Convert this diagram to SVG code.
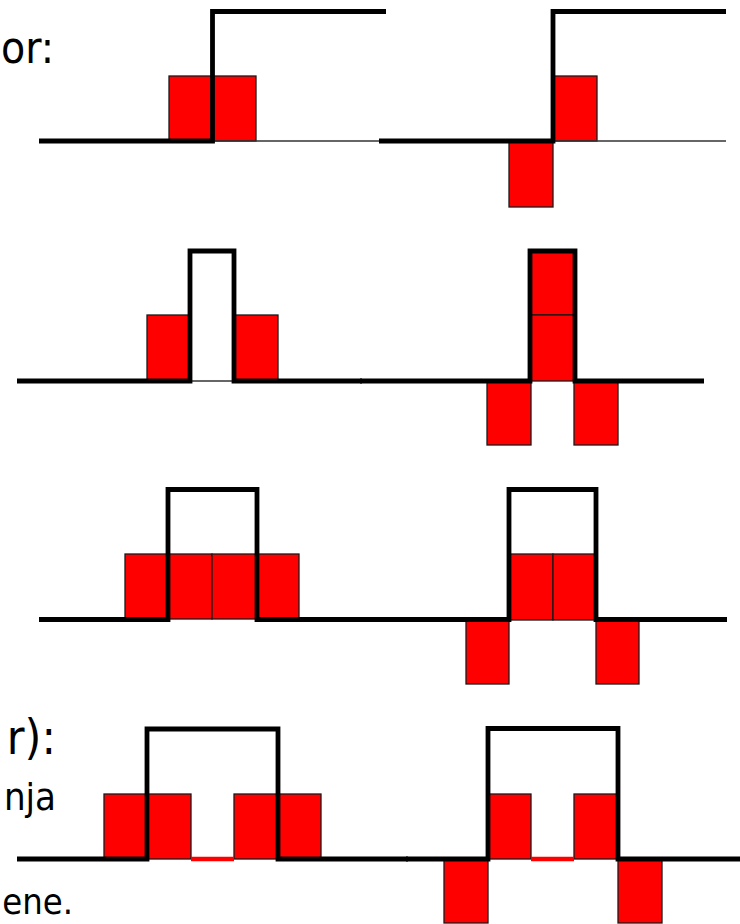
<svg xmlns="http://www.w3.org/2000/svg" width="740" height="924" viewBox="0 0 740 924">
<style>
.sq{fill:#FF0000;stroke:#1a1a1a;stroke-width:1.3}
.th{fill:none;stroke:#000;stroke-width:4.8;stroke-linejoin:miter;stroke-linecap:butt}
.tn{fill:none;stroke:#333;stroke-width:1.3}
.rl{fill:none;stroke:#FF0000;stroke-width:4.5}
.tx{font-family:"DejaVu Sans","Liberation Sans",sans-serif;font-stretch:condensed;fill:#000}
</style>
<rect width="740" height="924" fill="#fff"/>
<g id="texts">
<text class="tx" x="54" y="63" font-size="44" text-anchor="end">or:</text>
<text class="tx" x="56" y="754" font-size="48" text-anchor="end">r):</text>
<text class="tx" x="56" y="810" font-size="38" text-anchor="end">nja</text>
<text class="tx" x="73" y="914" font-size="36" text-anchor="end">ene.</text>
</g>
<g id="row1-left">
<rect class="sq" x="169" y="76" width="43.5" height="65"/>
<rect class="sq" x="212.5" y="76" width="43.5" height="65"/>
<line class="tn" x1="212.5" y1="141" x2="380" y2="141"/>
<path class="th" d="M39,141 H212.5 V11.5 H386"/>
</g>
<g id="row1-right">
<rect class="sq" x="553" y="76" width="44" height="65"/>
<rect class="sq" x="509" y="141" width="44" height="66"/>
<line class="tn" x1="553" y1="141" x2="726" y2="141"/>
<path class="th" d="M379,141 H553 V11.5 H726"/>
</g>
<g id="row2-left">
<rect class="sq" x="147" y="315" width="43" height="66"/>
<rect class="sq" x="234" y="315" width="44" height="66"/>
<line class="tn" x1="190" y1="381" x2="234" y2="381"/>
<path class="th" d="M17,381 H190 V251 H234 V381 H362"/>
</g>
<g id="row2-right">
<rect class="sq" x="530" y="251" width="45" height="64"/>
<rect class="sq" x="530" y="315" width="45" height="66"/>
<rect class="sq" x="487" y="381" width="44" height="64"/>
<rect class="sq" x="574" y="381" width="44" height="64"/>
<path class="th" d="M360,381 H530 V251 H575 V381 H704"/>
</g>
<g id="row3-left">
<rect class="sq" x="125" y="554" width="43" height="65"/>
<rect class="sq" x="168" y="554" width="44" height="65"/>
<rect class="sq" x="212" y="554" width="45" height="65"/>
<rect class="sq" x="257" y="554" width="42" height="65"/>
<path class="th" d="M39,619.5 H168 V489.5 H257 V619.5 H370"/>
</g>
<g id="row3-right">
<rect class="sq" x="509" y="554" width="44" height="66"/>
<rect class="sq" x="553" y="554" width="43" height="66"/>
<rect class="sq" x="466" y="620" width="43" height="64"/>
<rect class="sq" x="596" y="620" width="43" height="64"/>
<path class="th" d="M360,619.5 H509 V489.5 H596 V619.5 H727"/>
</g>
<g id="row4-left">
<rect class="sq" x="104" y="794" width="43" height="65"/>
<rect class="sq" x="147" y="794" width="44" height="65"/>
<rect class="sq" x="234" y="794" width="44" height="65"/>
<rect class="sq" x="278" y="794" width="43" height="65"/>
<line class="rl" x1="191" y1="859" x2="234" y2="859"/>
<path class="th" d="M17,859 H147 V729 H278 V859 H408"/>
</g>
<g id="row4-right">
<rect class="sq" x="488" y="794" width="43" height="65"/>
<rect class="sq" x="574" y="794" width="44" height="65"/>
<rect class="sq" x="444" y="859" width="44" height="64"/>
<rect class="sq" x="618" y="859" width="44" height="64"/>
<line class="rl" x1="531" y1="859" x2="574" y2="859"/>
<path class="th" d="M406,859 H488 V728.5 H618 V859 H740"/>
</g>
</svg>
